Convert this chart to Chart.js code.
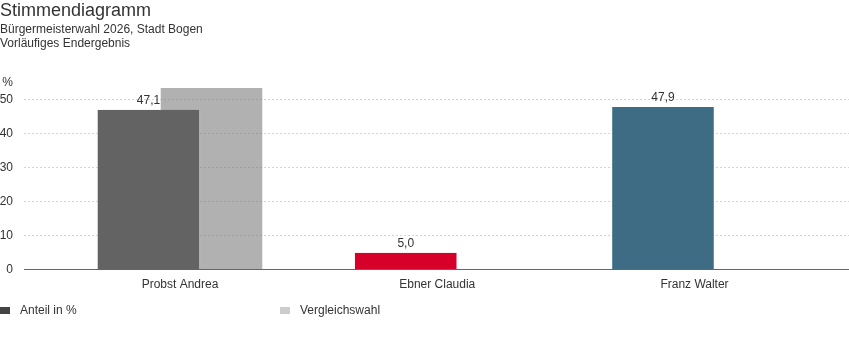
<!DOCTYPE html>
<html lang="de">
<head>
<meta charset="utf-8">
<title>Stimmendiagramm</title>
<script src="https://cdn.jsdelivr.net/npm/chart.js@4.4.1/dist/chart.umd.min.js"></script>
<style>
  html, body { margin: 0; padding: 0; background: #fff; }
  #wrap { position: relative; width: 849px; height: 352px; }
</style>
</head>
<body>
<div id="wrap"><canvas id="chart"></canvas></div>
<script>
// Daten
const categories = ['Probst Andrea', 'Ebner Claudia', 'Franz Walter'];
const shareValues = [47.1, 5.0, 47.9];
const compareValues = [53.5, null, null];
const barColors = ['#636363', '#d7002b', '#3d6c84'];
const seriesNames = ['Anteil in %', 'Vergleichswahl'];
const legendColors = ['#444444', '#cccccc'];
const yTicks = [0, 10, 20, 30, 40, 50];
const yUnit = '%';
const yTop = 55;

Chart.defaults.font.family = "'Liberation Sans', Arial, sans-serif";
Chart.defaults.font.size = 12;
Chart.defaults.color = '#333';

const fmt = v => v.toFixed(1).replace('.', ',');

// Werte über den Säulen
const valueLabels = {
    id: 'valueLabels',
    afterDatasetsDraw(chart) {
        const ctx = chart.ctx;
        const meta = chart.getDatasetMeta(0);
        ctx.save();
        ctx.font = "12px 'Liberation Sans', Arial, sans-serif";
        ctx.fillStyle = '#333';
        ctx.textAlign = 'center';
        ctx.textBaseline = 'alphabetic';
        meta.data.forEach((bar, i) => {
            const v = shareValues[i];
            if (v == null) return;
            ctx.fillText(fmt(v), bar.x, bar.y - 6);
        });
        ctx.restore();
    }
};

// Legende unten, feste Abstände wie im Original
const bottomLegend = {
    id: 'bottomLegend',
    afterDraw(chart) {
        const ctx = chart.ctx;
        const xs = [0, 280];
        const y = 311;
        ctx.save();
        ctx.font = "12px 'Liberation Sans', Arial, sans-serif";
        ctx.textBaseline = 'middle';
        ctx.textAlign = 'left';
        seriesNames.forEach((name, i) => {
            ctx.fillStyle = legendColors[i];
            ctx.fillRect(xs[i], y - 4, 10, 7);
            ctx.fillStyle = '#333';
            ctx.fillText(name, xs[i] + 20, y);
        });
        ctx.restore();
    }
};

new Chart(document.getElementById('chart'), {
    type: 'bar',
    data: {
        datasets: [
            {
                label: seriesNames[0],
                data: categories.map((c, i) => ({ x: i, y: shareValues[i] })),
                backgroundColor: barColors,
                borderColor: 'rgba(255,255,255,0.45)',
                borderWidth: { left: 1, right: 1, top: 0, bottom: 0 },
                borderSkipped: false
            },
            {
                label: seriesNames[1],
                data: categories.map((c, i) => ({ x: i, y: compareValues[i] })),
                backgroundColor: 'rgba(100,100,100,0.5)',
                borderColor: 'rgba(255,255,255,0.45)',
                borderWidth: { left: 1, right: 1, top: 0, bottom: 0 },
                borderSkipped: false
            }
        ]
    },
    options: {
        responsive: true,
        maintainAspectRatio: false,
        animation: false,
        categoryPercentage: 0.49,
        barPercentage: 1.643,
        layout: { padding: { left: 0, right: 0, top: 0, bottom: 52 } },
        plugins: {
            legend: { display: false },
            tooltip: { enabled: false },
            title: {
                display: true,
                text: 'Stimmendiagramm',
                align: 'start',
                color: '#333',
                font: { size: 18, weight: 'normal', lineHeight: 22 / 18 },
                padding: { top: 0, bottom: 1 }
            },
            subtitle: {
                display: true,
                text: ['Bürgermeisterwahl 2026, Stadt Bogen', 'Vorläufiges Endergebnis'],
                align: 'start',
                color: '#333',
                font: { size: 12, lineHeight: 14 / 12 },
                padding: { top: 0, bottom: 32 }
            }
        },
        scales: {
            x: {
                type: 'linear',
                offset: false,
                min: -0.6064,
                max: 2.6006,
                afterBuildTicks: scale => { scale.ticks = categories.map((c, i) => ({ value: i })); },
                ticks: {
                    callback: v => categories[v],
                    padding: 8,
                    maxRotation: 0,
                    autoSkip: false,
                    color: '#333'
                },
                grid: { display: false, drawTicks: false },
                border: { display: true, color: '#666', width: 1 }
            },
            y: {
                min: 0,
                max: yTop,
                afterFit: scale => { scale.width = 24; },
                afterBuildTicks: scale => { scale.ticks = yTicks.concat([yTop]).map(v => ({ value: v })); },
                ticks: {
                    callback: v => (v === yTop ? yUnit : v),
                    padding: 11,
                    color: '#333'
                },
                grid: {
                    drawTicks: false,
                    color: ctx => (ctx.tick && ctx.tick.value === yTop ? 'rgba(0,0,0,0)' : '#d4d4d4')
                },
                border: { display: false, dash: [2, 2] }
            }
        }
    },
    plugins: [valueLabels, bottomLegend]
});
</script>
</body>
</html>
